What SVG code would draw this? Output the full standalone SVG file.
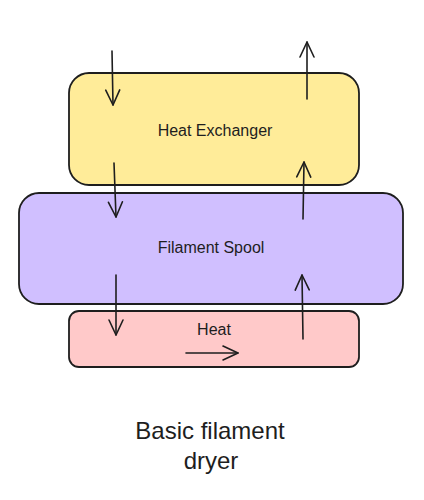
<svg xmlns="http://www.w3.org/2000/svg" width="424" height="500" viewBox="0 0 424 500">
<defs>
<marker id="ah" markerUnits="userSpaceOnUse" markerWidth="22" markerHeight="22" refX="17" refY="9" orient="auto">
<path d="M2,2 L17,9 L2,16" fill="none" stroke="#1e1e1e" stroke-width="1.6" stroke-linecap="round" stroke-linejoin="round"/>
</marker>
</defs>
<style>
.box{stroke:#1e1e1e;stroke-width:1.8}
.lbl{font-family:"Liberation Sans",Arial,sans-serif;fill:#1e1e1e;text-anchor:middle;dominant-baseline:central}
.arr{fill:none;stroke:#1e1e1e;stroke-width:1.6;stroke-linecap:round;marker-end:url(#ah)}
</style>
<rect width="424" height="500" fill="#ffffff"/>
<g id="heat-exchanger">
<rect class="box" x="69" y="73" width="290" height="112" rx="20" fill="#ffec99"/>
<text class="lbl" x="215" y="130" font-size="16">Heat Exchanger</text>
</g>
<g id="filament-spool">
<rect class="box" x="19" y="193" width="384" height="111" rx="20" fill="#d0bfff"/>
<text class="lbl" x="211" y="247" font-size="16">Filament Spool</text>
</g>
<g id="heat">
<rect class="box" x="69" y="311" width="290" height="56" rx="10" fill="#ffc9c9"/>
<text class="lbl" x="214" y="329" font-size="16">Heat</text>
</g>
<g id="connectors">
<path class="arr" d="M112,51 L113,105"/>
<path class="arr" d="M307,99 L307,42"/>
<path class="arr" d="M114,163 L116,217"/>
<path class="arr" d="M303,219 L304,162"/>
<path class="arr" d="M116,275 L116,335"/>
<path class="arr" d="M303,339 L302,275"/>
<path class="arr" d="M186,353 L238,353"/>
</g>
<g id="title">
<text class="lbl" x="210" y="430" font-size="24">Basic filament</text>
<text class="lbl" x="211" y="460" font-size="24">dryer</text>
</g>
</svg>
